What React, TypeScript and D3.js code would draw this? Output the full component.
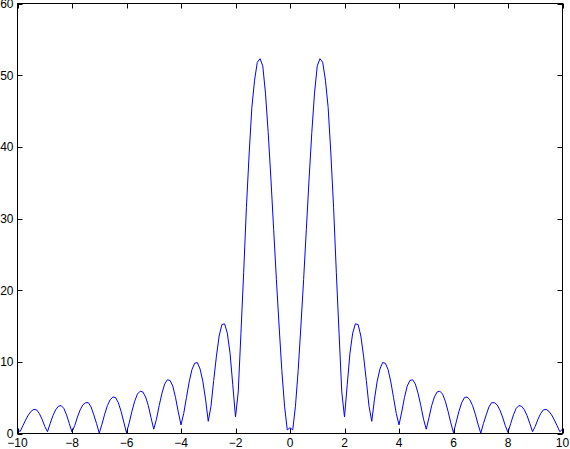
import React from "react";
import * as d3 from "d3";

const xLeft = d3.range(-100, 0).map((i) => i / 10);
const yLeft = [
  0.45, 0.3, 1.1, 1.9, 2.6, 3.1, 3.37, 3.3, 2.8, 2.0,
  1.0, 0.25, 1.4, 2.5, 3.3, 3.8, 3.9, 3.5, 2.6, 1.4,
  0.2, 1.1, 2.3, 3.3, 4.0, 4.3, 4.3, 3.7, 2.6, 1.4,
  0.05, 1.3, 2.7, 3.9, 4.7, 5.1, 5.0, 4.3, 3.1, 1.6,
  0.1, 1.5, 3.1, 4.5, 5.5, 5.9, 5.8, 5.1, 3.9, 2.2,
  0.6, 2.0, 3.9, 5.6, 6.9, 7.5, 7.4, 6.6, 5.0, 3.0,
  1.2, 2.8, 5.0, 7.2, 8.9, 9.8, 9.9, 9.0, 7.3, 4.8,
  1.7, 3.8, 7.4, 10.8, 13.6, 15.2, 15.3, 14, 11.2, 6.8,
  2.3, 5.8, 14, 22.5, 31.5, 39, 45.5, 49.3, 51.8, 52.3,
  51.3, 47.5, 42, 35.5, 28.5, 21.5, 15, 8.8, 3.8, 0.5,
];
const xRight = d3.range(0, 101).map((i) => i / 10);
const yRight = [
  0.8, 0.5, 3.8, 8.8, 15, 21.5, 28.5, 35.5, 42, 47.5,
  51.3, 52.3, 51.8, 49.3, 45.5, 39, 31.5, 22.5, 14, 5.8,
  2.3, 6.8, 11.2, 14, 15.3, 15.2, 13.6, 10.8, 7.4, 3.8,
  1.7, 4.8, 7.3, 9.0, 9.9, 9.8, 8.9, 7.2, 5.0, 2.8,
  1.2, 3.0, 5.0, 6.6, 7.4, 7.5, 6.9, 5.6, 3.9, 2.0,
  0.6, 2.2, 3.9, 5.1, 5.8, 5.9, 5.5, 4.5, 3.1, 1.5,
  0.1, 1.6, 3.1, 4.3, 5.0, 5.1, 4.7, 3.9, 2.7, 1.3,
  0.05, 1.4, 2.6, 3.7, 4.3, 4.3, 4.0, 3.3, 2.3, 1.1,
  0.15, 1.4, 2.6, 3.5, 3.9, 3.8, 3.3, 2.5, 1.4, 0.25,
  1.0, 2.0, 2.8, 3.3, 3.37, 3.1, 2.6, 1.9, 1.1, 0.25,
  0.6,
];
const xTicks = [-10, -8, -6, -4, -2, 0, 2, 4, 6, 8, 10];
const yTicks = [0, 10, 20, 30, 40, 50, 60];

const width = 570;
const height = 449;
const left = 17.5;
const right = 562.5;
const top = 3.5;
const bottom = 433.5;
const tick = 5;

export default function App() {
  const x = d3.scaleLinear().domain([-10, 10]).range([left, right]);
  const y = d3.scaleLinear().domain([0, 60]).range([bottom, top]);

  const pts: [number, number][] = [
    ...xLeft.map((v, i) => [v, yLeft[i]] as [number, number]),
    ...xRight.map((v, i) => [v, yRight[i]] as [number, number]),
  ];
  const line = d3
    .line<[number, number]>()
    .x((d) => x(d[0]))
    .y((d) => y(d[1]));
  const fmt = d3.format("");

  return (
    <svg
      width={width}
      height={height}
      style={{ position: "absolute", left: 0, top: 0, background: "#fff" }}
      fontFamily="'Liberation Sans', Arial, sans-serif"
      fontSize="12px"
    >
      <rect x={0} y={0} width={width} height={height} fill="#fff" />
      <path d={line(pts) ?? ""} fill="none" stroke="#0000ff" strokeWidth={1} />
      <rect x={left} y={top} width={right - left} height={bottom - top} fill="none" stroke="#000" strokeWidth={1} />
      {xTicks.map((t) => (
        <g key={"x" + t}>
          <line x1={Math.round(x(t)) + 0.5} x2={Math.round(x(t)) + 0.5} y1={bottom} y2={bottom - tick} stroke="#000" />
          <line x1={Math.round(x(t)) + 0.5} x2={Math.round(x(t)) + 0.5} y1={top} y2={top + tick} stroke="#000" />
          <text x={x(t)} y={447} textAnchor="middle" fill="#000">
            {fmt(t)}
          </text>
        </g>
      ))}
      {yTicks.map((t) => (
        <g key={"y" + t}>
          <line x1={left} x2={left + tick} y1={Math.round(y(t)) + 0.5} y2={Math.round(y(t)) + 0.5} stroke="#000" />
          <line x1={right} x2={right - tick} y1={Math.round(y(t)) + 0.5} y2={Math.round(y(t)) + 0.5} stroke="#000" />
          <text x={13.5} y={y(t) + 4.5} textAnchor="end" fill="#000">
            {fmt(t)}
          </text>
        </g>
      ))}
    </svg>
  );
}
